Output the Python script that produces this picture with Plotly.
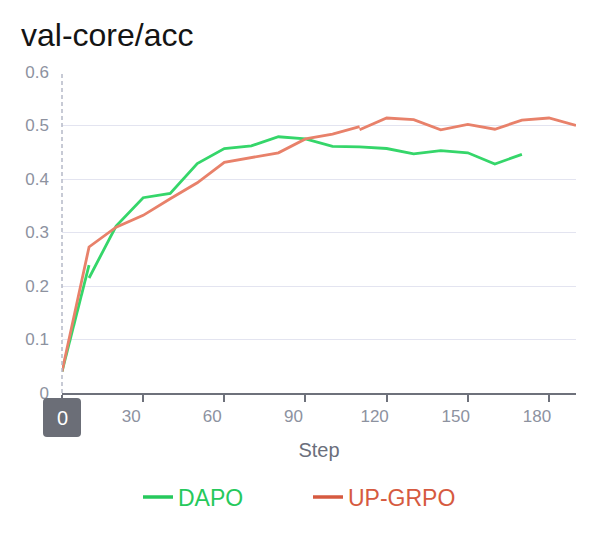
import plotly.graph_objects as go

# ---- data ----
# DAPO: two logged segments (a short first run, then the resumed run)
dapo_steps_a = [0, 10]
dapo_acc_a = [0.040, 0.239]
dapo_steps_b = [10, 20, 30, 40, 50, 60, 70, 80, 90, 100, 110, 120, 130, 140, 150, 160, 170]
dapo_acc_b = [0.215, 0.312, 0.365, 0.373, 0.429, 0.457, 0.462, 0.479, 0.475, 0.461,
              0.460, 0.457, 0.447, 0.453, 0.449, 0.428, 0.446]

# UP-GRPO: two logged segments (break at step 110)
upgrpo_steps_a = [0, 10, 20, 30, 40, 50, 60, 70, 80, 90, 100, 110]
upgrpo_acc_a = [0.040, 0.273, 0.310, 0.332, 0.363, 0.393, 0.431, 0.440, 0.449, 0.475, 0.484, 0.498]
upgrpo_steps_b = [110, 120, 130, 140, 150, 160, 170, 180, 190]
upgrpo_acc_b = [0.492, 0.514, 0.511, 0.492, 0.502, 0.493, 0.510, 0.514, 0.500]

x_tick_vals = [0, 30, 60, 90, 120, 150, 180]
x_tick_text = ["", "30", "60", "90", "120", "150", "180"]
y_tick_vals = [0, 0.1, 0.2, 0.3, 0.4, 0.5, 0.6]
y_tick_text = ["0", "0.1", "0.2", "0.3", "0.4", "0.5", "0.6"]

series_names = ["DAPO", "UP-GRPO"]
line_colors = ["#35d66a", "#e8816a"]
legend_colors = ["#26c95c", "#d65a40"]

FONT = "Liberation Sans, Arial, Helvetica, sans-serif"

fig = go.Figure()

dapo_x = dapo_steps_a + [None] + dapo_steps_b
dapo_y = dapo_acc_a + [None] + dapo_acc_b
up_x = upgrpo_steps_a + [None] + upgrpo_steps_b
up_y = upgrpo_acc_a + [None] + upgrpo_acc_b

fig.add_trace(go.Scatter(x=dapo_x, y=dapo_y, mode="lines", connectgaps=False,
                         line=dict(color=line_colors[0], width=2.8), showlegend=False,
                         name=series_names[0]))
fig.add_trace(go.Scatter(x=up_x, y=up_y, mode="lines", connectgaps=False,
                         line=dict(color=line_colors[1], width=2.8), showlegend=False,
                         name=series_names[1]))

# legend entries
for name, col in zip(series_names, legend_colors):
    fig.add_trace(go.Scatter(x=[None], y=[None], mode="lines",
                             line=dict(color=col, width=3.5),
                             name=f'<span style="color:{col}">{name}</span>'))

# hover pointer (dashed vertical line at step 0, left edge of the plot area)
fig.add_shape(type="line", xref="paper", yref="paper", x0=0, x1=0, y0=0, y1=1,
              line=dict(color="#b5b9c8", width=1.5, dash="4px,3px"), layer="above")

# badge under x = 0
fig.add_shape(type="path", xref="paper", yref="paper", xsizemode="pixel", ysizemode="pixel",
              xanchor=0, yanchor=0,
              path="M -15,-5 L 15,-5 Q 19,-5 19,-9 L 19,-40 Q 19,-44 15,-44 "
                   "L -15,-44 Q -19,-44 -19,-40 L -19,-9 Q -19,-5 -15,-5 Z",
              fillcolor="#6b6e77", line=dict(width=0), layer="above")
fig.add_annotation(x=0, y=0, xref="x", yref="y", text="0", showarrow=False,
                   yshift=-24.5, font=dict(size=20, color="white", family=FONT))

fig.update_layout(
    width=597, height=541,
    margin=dict(l=62, r=21, t=72, b=148),
    paper_bgcolor="white", plot_bgcolor="white",
    title=dict(text="val-core/acc", x=21 / 597, xanchor="left", xref="container",
               y=1 - 35 / 541, yanchor="middle", yref="container",
               font=dict(size=32, color="#141414", family=FONT)),
    font=dict(family=FONT),
    legend=dict(orientation="h", x=(138 - 62) / 514, xanchor="left", y=-0.324, yanchor="middle",
                entrywidth=125, entrywidthmode="pixels",
                font=dict(size=23, family=FONT), bgcolor="rgba(0,0,0,0)"),
    xaxis=dict(range=[0, 190], tickvals=x_tick_vals, ticktext=x_tick_text,
               showgrid=False, zeroline=False, showline=True, linecolor="#6e717b",
               linewidth=1.5, ticks="outside", ticklen=7, tickwidth=1.5, tickcolor="#6e717b",
               ticklabelshift=-12,
               tickfont=dict(size=17, color="#8d929f", family=FONT),
               title=dict(text="Step", font=dict(size=20, color="#6b6f7c", family=FONT),
                          standoff=18)),
    yaxis=dict(range=[0, 0.6], tickvals=y_tick_vals, ticktext=y_tick_text,
               showgrid=True, gridcolor="#e3e4f0", gridwidth=1.2, zeroline=False,
               showline=False, ticks="", ticklabelstandoff=12,
               tickfont=dict(size=17, color="#8d929f", family=FONT)),
)

fig.write_html("out.html")
